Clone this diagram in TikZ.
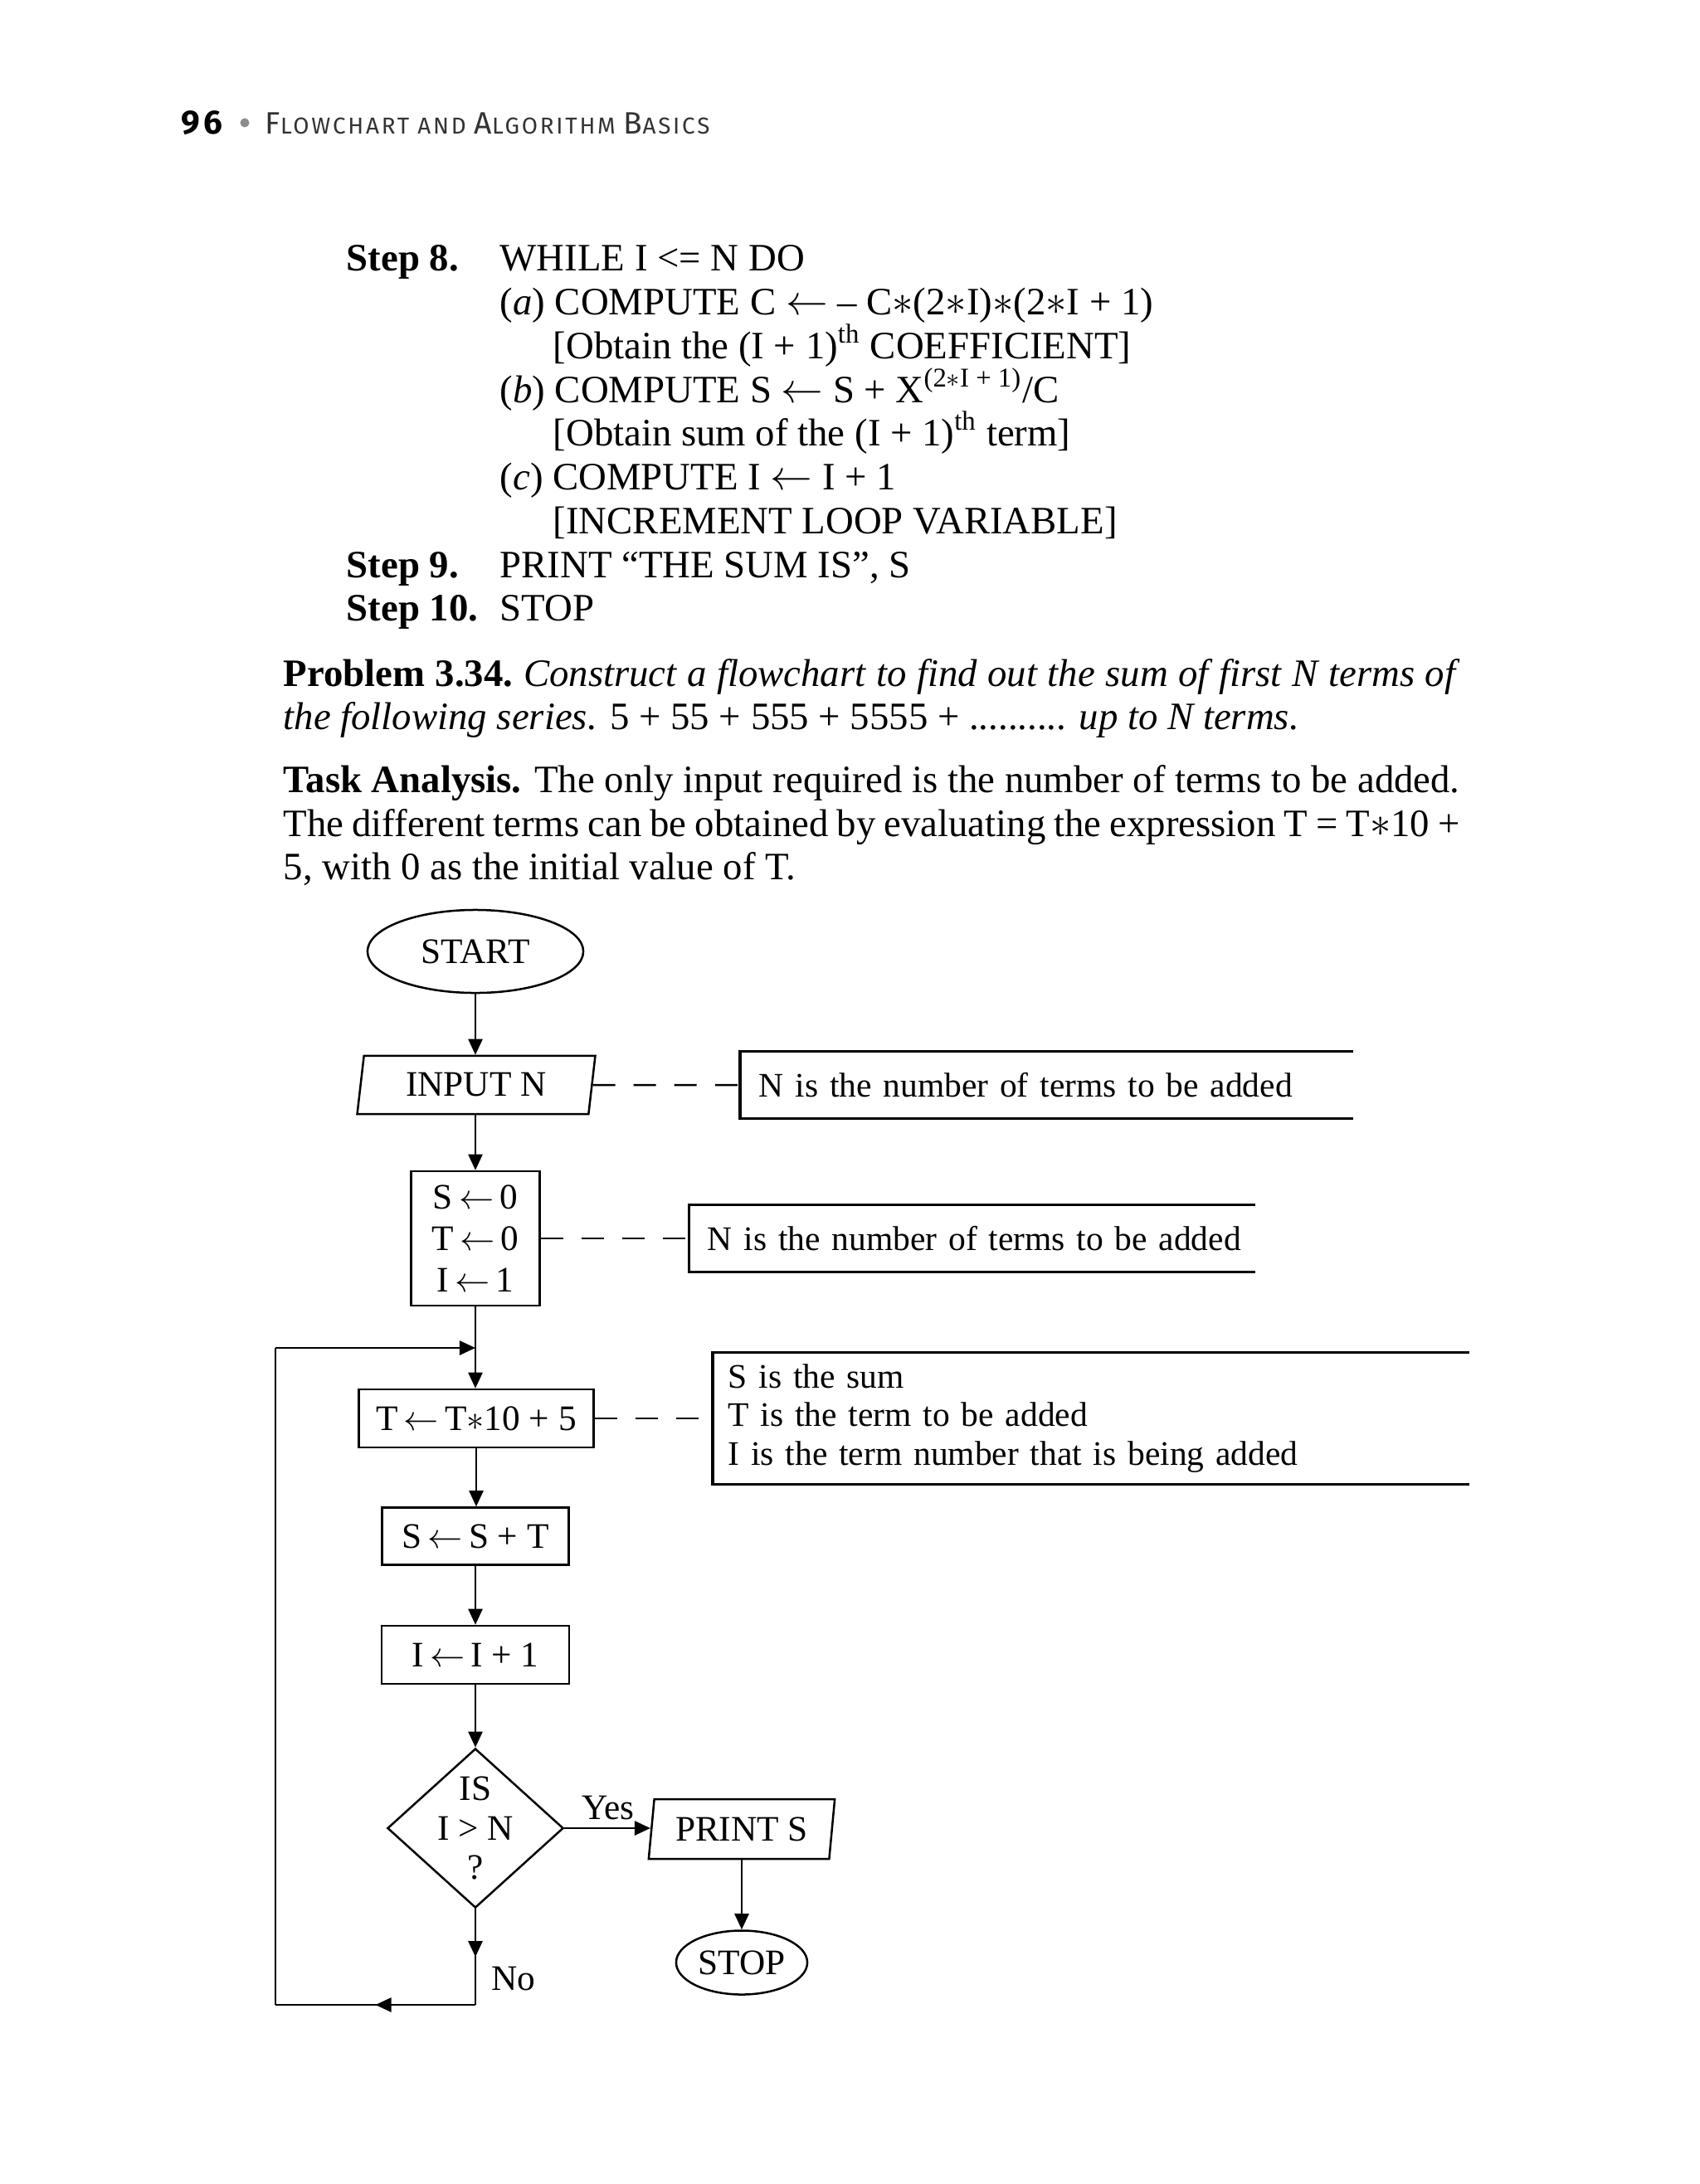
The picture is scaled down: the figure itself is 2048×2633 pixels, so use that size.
\documentclass[tikz,border=0pt]{standalone}
\usepackage{fontspec}
\setmainfont{Liberation Serif}
\newfontfamily\hdfont[LetterSpace=10]{Fira Sans}
\usetikzlibrary{shapes.geometric,arrows.meta,decorations.markings}
\definecolor{bulletgray}{gray}{0.55}
\definecolor{hdgray}{gray}{0.2}
\newcommand\bodyfont{\fontsize{13.3}{15}\selectfont}
\newcommand\fcfont{\fontsize{12.3}{14.2}\selectfont}
\newcommand\notefont{\fontsize{11.8}{13.1}\selectfont}
\newcommand\hdbig[1]{{\fontsize{10.6}{11}\selectfont #1}}
\newcommand\hdsmall[1]{{\fontsize{7.9}{9}\selectfont #1}}
\newcommand\la{$\leftarrow$}
\newcommand\sups[1]{\textsuperscript{\smash{#1}}}
\begin{document}
\begin{tikzpicture}[x=0.01cm, y=-0.01cm,
  every node/.style={inner sep=0pt, font=\bodyfont},
  txt/.style={anchor=base west, inner sep=0pt, text height=0.33cm, text depth=0.08cm},
  thinln/.style={line width=0.025cm},
  arr/.style={thinln, -{Triangle[length=0.19cm,width=0.17cm]}},
  box/.style={draw, thinln, rectangle, inner sep=0pt, font=\fcfont, align=center},
  io/.style={draw, thinln, trapezium, trapezium left angle=80, trapezium right angle=100, trapezium stretches=true, inner sep=0pt, font=\fcfont},
  term/.style={draw, thinln, ellipse, inner sep=0pt, font=\fcfont},
  decis/.style={draw, thinln, diamond, inner sep=-0.3cm, align=center},
  note/.style={inner sep=0pt, align=left, font=\notefont},
  bracket/.style={line width=0.032cm},
  dashln/.style={thinln, dash pattern=on 0.27cm off 0.22cm},
  midarrow/.style={postaction={decorate}, decoration={markings, mark=at position 0.5 with {\arrow{Triangle[length=0.19cm,width=0.17cm]}}}}
]
\fill[white] (0,0) rectangle (2048,2633);
\useasboundingbox (0,0) rectangle (2048,2633);

% header
\node[txt, font=\hdfont\bfseries\fontsize{11.5}{12}\selectfont] (pg) at (218,161) {96};
\node[circle, fill=bulletgray, minimum size=0.11cm, inner sep=0pt] (bul) at (295,148) {};
\node[txt, font=\hdfont, text=hdgray] (hd) at (319,161) {\hdbig{F}\hdsmall{LOWCHART AND }\hdbig{A}\hdsmall{LGORITHM }\hdbig{B}\hdsmall{ASICS}};

% algorithm steps
\node[txt] (st8) at (417,326) {\textbf{Step 8.}};
\node[txt] (l1) at (602,326) {WHILE I <= N DO};
\node[txt] (l2) at (602,379) {(\textit{a}) COMPUTE C \la{} – C$\ast$(2$\ast$I)$\ast$(2$\ast$I + 1)};
\node[txt] (l3) at (666,432) {[Obtain the (I + 1)\sups{th} COEFFICIENT]};
\node[txt] (l4) at (602,485) {(\textit{b}) COMPUTE S \la{} S + X\sups{(2$\ast$I + 1)}/C};
\node[txt] (l5) at (666,537) {[Obtain sum of the (I + 1)\sups{th} term]};
\node[txt] (l6) at (602,590) {(\textit{c}) COMPUTE I \la{} I + 1};
\node[txt] (l7) at (666,643) {[INCREMENT LOOP VARIABLE]};
\node[txt] (st9) at (417,696) {\textbf{Step 9.}};
\node[txt] (l8) at (602,696) {PRINT “THE SUM IS”, S};
\node[txt] (st10) at (417,748) {\textbf{Step 10.}};
\node[txt] (l9) at (602,748) {STOP};

% problem
\node[txt] (p1) at (341,827) {\makebox[14.17cm][s]{\textbf{Problem 3.34.}\ \textit{Construct a flowchart to find out the sum of first N terms of}}};
\node[txt] (p2) at (341,879) {\textit{the following series.} 5 + 55 + 555 + 5555 + .......... \textit{up to N terms.}};
\node[txt] (t1) at (341,955) {\makebox[14.17cm][s]{\textbf{Task Analysis.} The only input required is the number of terms to be added.}};
\node[txt] (t2) at (341,1008) {\makebox[14.17cm][s]{The different terms can be obtained by evaluating the expression T = T$\ast$10 +}};
\node[txt] (t3) at (341,1060) {5, with 0 as the initial value of T.};

% flowchart
\node[term, minimum width=2.6cm, minimum height=1.0cm] (start) at (573,1147) {START};
\node[io, minimum width=2.88cm, minimum height=0.7cm] (input) at (574,1308) {INPUT N};
\node[box, minimum width=1.55cm, minimum height=1.62cm] (init) at (573,1493) {S\,\la\,0\\T\,\la\,0\\I\,\la\,1};
\node[box, minimum width=2.83cm, minimum height=0.7cm] (tcalc) at (574,1710) {T\,\la\,T$\ast$10 + 5};
\node[box, minimum width=2.25cm, minimum height=0.69cm] (sadd) at (573,1852) {S\,\la\,S + T};
\node[box, minimum width=2.26cm, minimum height=0.7cm] (iinc) at (573,1995) {I\,\la\,I + 1};
\node[decis, minimum width=2.12cm, minimum height=1.92cm, font=\fontsize{12.3}{13.4}\selectfont] (test) at (573,2204) {IS\\I > N\\?};
\node[io, minimum width=2.25cm, minimum height=0.72cm] (print) at (894,2205) {PRINT S};
\node[term, minimum width=1.58cm, minimum height=0.77cm] (stop) at (894,2366) {STOP};

% annotations
\node[note, text width=6.93cm, inner xsep=0.22cm, minimum height=0.8cm] (n1) at (1261.5,1308) {\mbox{N is the number of terms to be added}};
\node[note, text width=6.37cm, inner xsep=0.22cm, minimum height=0.8cm] (n2) at (1171.5,1493) {\mbox{N is the number of terms to be added}};
\node[note, text width=8.74cm, inner xsep=0.18cm, minimum height=1.58cm] (n3) at (1315,1710) {S is the sum\\T is the term to be added\\I is the term number that is being added};
\draw[bracket] (n1.north east) -- (n1.north west) -- (n1.south west) -- (n1.south east);
\draw[bracket] (n2.north east) -- (n2.north west) -- (n2.south west) -- (n2.south east);
\draw[bracket] (n3.north east) -- (n3.north west) -- (n3.south west) -- (n3.south east);
\draw[dashln] (input.east) -- (n1.west);
\draw[dashln] (init.east) -- (n2.west);
\draw[dashln] (tcalc.east) -- (n3.west);

% connectors
\draw[arr] (start.south) -- (start.south |- input.north);
\draw[arr] (init.north |- input.south) -- (init.north);
\draw[arr] (init.south) -- (init.south |- tcalc.north);
\draw[arr] (tcalc.south) -- (tcalc.south |- sadd.north);
\draw[arr] (sadd.south) -- (sadd.south |- iinc.north);
\draw[arr] (iinc.south) -- (test.north);
\draw[arr] (test.east) -- (test.east -| print.west);
\node (yes) at (733,2180) {\fcfont Yes};
\draw[arr] (stop.north |- print.south) -- (stop.north);

\coordinate (c1) at (573,2417);
\coordinate (c2) at (332,2417);
\coordinate (c3) at (332,1625);
\coordinate (c4) at (573,1625);
\draw[thinln, midarrow] (test.south) -- (c1);
\draw[thinln, midarrow] (c1) -- (c2);
\draw[thinln] (c2) -- (c3);
\draw[arr] (c3) -- (c4);
\node (no) at (619,2386) {\fcfont No};
\end{tikzpicture}
\end{document}
